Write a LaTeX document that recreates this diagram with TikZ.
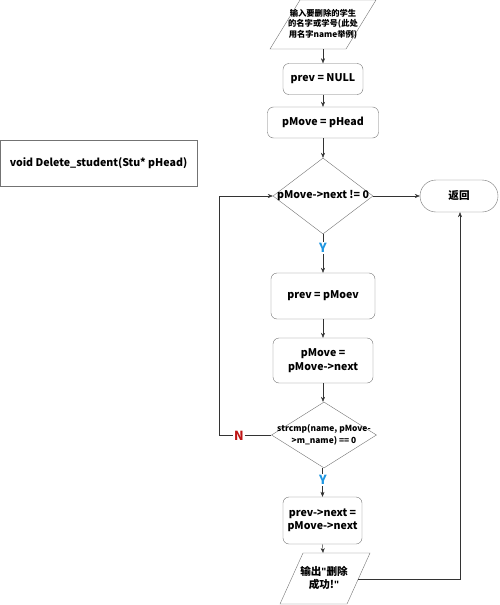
\documentclass[tikz,border=0pt]{standalone}
\usepackage{fontspec}
\setmainfont{Noto Sans CJK SC}
\newfontfamily\qfont{Liberation Sans}
\usetikzlibrary{shapes.geometric,arrows.meta}
\definecolor{ylab}{RGB}{30,150,225}
\definecolor{nlab}{RGB}{190,20,20}
\begin{document}
\begin{tikzpicture}[x=1pt,y=-1pt,
  font=\bfseries\fontsize{10.6}{13.5}\selectfont,
  box/.style={draw=black!55, rounded corners=6pt, align=center, inner sep=0pt},
  dia/.style={draw=black!55, diamond, inner sep=0pt},
  arr/.style={draw=black!80, -{Stealth[length=5pt,width=4pt]}},
  ln/.style={draw=black!80},
  lab/.style={fill=white, inner sep=1pt, font=\bfseries\fontsize{12.5}{12.5}\selectfont}]
\useasboundingbox (0,0) rectangle (500,605);
% input parallelogram
\draw[draw=black!55] (300,0) -- (376,0) -- (346,49) -- (270,49) -- cycle;
\node[align=center, font=\bfseries\fontsize{8.3}{10.5}\selectfont] (in) at (323,24) {输入要删除的学生\\的名字或学号(此处\\用名字name举例)};
\coordinate (inb) at (323,49);
% function box
\node[draw=black!55, minimum width=197pt, minimum height=46pt, inner sep=0pt] (fn) at (98.5,163) {void Delete\_student(Stu* pHead)};
% boxes
\node[box, minimum width=80pt, minimum height=31pt] (b1) at (323,79) {prev = NULL};
\node[box, minimum width=111pt, minimum height=31pt] (b2) at (323,122.5) {pMove = pHead};
\node[dia, minimum width=100pt, minimum height=76pt] (d1) at (323,196) {};
\node (d1t) at (323,196) {pMove->next != 0};
\node[draw=black!55, rounded corners=16pt, minimum width=78pt, minimum height=32pt, inner sep=0pt] (ret) at (459,196) {返回};
\node[box, minimum width=104pt, minimum height=46pt] (b3) at (323,296) {prev = pMoev};
\node[box, minimum width=100pt, minimum height=45pt] (b4) at (323,360.5) {pMove =\\pMove->next};
\node[dia, minimum width=105pt, minimum height=66pt] (d2) at (324,435) {};
\node[align=center, font=\bfseries\fontsize{8.4}{11.5}\selectfont] (d2t) at (324,435) {strcmp(name, pMove-\\>m\_name) == 0};
\node[box, minimum width=79pt, minimum height=47pt] (b5) at (322.5,520.5) {prev->next =\\pMove->next};
% output parallelogram
\draw[draw=black!55] (303,553) -- (370,553) -- (347,604) -- (280,604) -- cycle;
\node[align=center] (out) at (324,578) {输出{\qfont"}删除\\成功!{\qfont"}};
\coordinate (outt) at (323,553);
\coordinate (outr) at (358,579);
% connectors
\draw[arr] (inb) -- (b1);
\draw[arr] (b1) -- (b2);
\draw[arr] (b2) -- (d1.north);
\draw[arr] (d1.east) -- (ret.west);
\draw[ln] (d1.south) -- (323,263);
\draw[arr] (323,263) -- (b3.north);
\node[lab, text=ylab] (y1) at (323,248) {Y};
\draw[arr] (b3) -- (b4);
\draw[arr] (b4.south) -- (d2.north -| b4.south);
\coordinate (lc1) at (219,435);
\coordinate (lc2) at (219,196);
\draw[ln] (d2.west) -- (lc1) -- (lc2);
\draw[arr] (lc2) -- (d1.west);
\node[lab, text=nlab] (n1) at (239,436) {N};
\draw[arr] (d2.south -| b5.north) -- (b5.north);
\node[lab, text=ylab] (y2) at (323,480) {Y};
\draw[arr] (b5.south) -- (outt);
\coordinate (rc) at (460,579);
\draw[arr] (outr) -- (rc) -- (ret.south -| rc);
\end{tikzpicture}
\end{document}
